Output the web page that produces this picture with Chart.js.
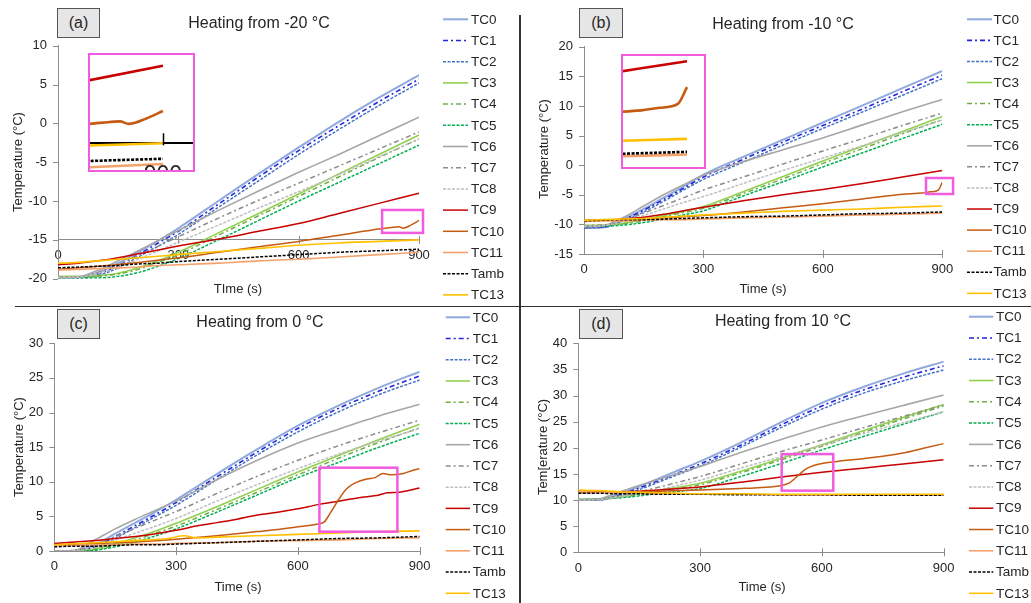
<!DOCTYPE html>
<html><head><meta charset="utf-8">
<script src="https://cdn.jsdelivr.net/npm/chart.js@4.4.1/dist/chart.umd.min.js"></script>
<style>
html,body{margin:0;padding:0;background:#fff}
body{width:1031px;height:603px;position:relative;overflow:hidden;font-family:"Liberation Sans",Arial,sans-serif;color:#262626}
canvas{position:absolute;display:block}
.t{position:absolute;transform:translate(-50%,-50%);white-space:nowrap;line-height:1}
.ttl{font-size:16px}
.ax{font-size:13px}
.rot{transform:translate(-50%,-50%) rotate(-90deg)}
.lbl{position:absolute;box-sizing:border-box;background:#e6e6e6;border:1.5px solid #555;font-size:16px;display:flex;align-items:center;justify-content:center}
.div{position:absolute;background:#333}
.inset{position:absolute;box-sizing:border-box;border:2px solid #F35BDF;background:#fff}
.inset canvas{position:absolute;left:0;top:0}
</style>
</head><body>

<canvas id="ca" width="518" height="305" style="left:0;top:0"></canvas>
<canvas id="cb" width="510" height="305" style="left:521px;top:0"></canvas>
<canvas id="cc" width="518" height="297" style="left:0;top:306px"></canvas>
<canvas id="cd" width="510" height="297" style="left:521px;top:306px"></canvas>

<div class="inset" style="left:88px;top:53px;width:107px;height:119px"><canvas id="ia" width="103" height="115"></canvas></div>
<div class="inset" style="left:621px;top:54px;width:85px;height:115px"><canvas id="ib" width="81" height="111"></canvas></div>

<div class="div" style="left:519px;top:15px;width:1.5px;height:588px"></div>
<div class="div" style="left:15px;top:305.5px;width:1016px;height:1.5px"></div>

<div class="lbl" style="left:57px;top:8px;width:43px;height:30px">(a)</div>
<div class="lbl" style="left:579px;top:8px;width:44px;height:30px">(b)</div>
<div class="lbl" style="left:57px;top:309px;width:43px;height:30px">(c)</div>
<div class="lbl" style="left:579px;top:309px;width:44px;height:30px">(d)</div>

<div class="t ttl" style="left:259px;top:23px">Heating from -20 °C</div>
<div class="t ttl" style="left:783px;top:24px">Heating from -10 °C</div>
<div class="t ttl" style="left:260px;top:322px">Heating from 0 °C</div>
<div class="t ttl" style="left:783px;top:321px">Heating from 10 °C</div>

<div class="t ax rot" style="left:17px;top:162px">Temperature (°C)</div>
<div class="t ax rot" style="left:543px;top:149px">Temperature (°C)</div>
<div class="t ax rot" style="left:18px;top:447px">Temperature (°C)</div>
<div class="t ax rot" style="left:542px;top:447px">Tem[erature (°C)</div>

<div class="t ax" style="left:238px;top:288px">TIme (s)</div>
<div class="t ax" style="left:763px;top:288px">Time (s)</div>
<div class="t ax" style="left:238px;top:586px">Time (s)</div>
<div class="t ax" style="left:762px;top:586px">Time (s)</div>

<script>
// ---------------- data ----------------
const NAMES = ['TC0','TC1','TC2','TC3','TC4','TC5','TC6','TC7','TC8','TC9','TC10','TC11','Tamb','TC13'];
const xTicks = [0, 300, 600, 900];
const yTicksA = [-20, -15, -10, -5, 0, 5, 10];
const yTicksB = [-15, -10, -5, 0, 5, 10, 15, 20];
const yTicksC = [0, 5, 10, 15, 20, 25, 30];
const yTicksD = [0, 5, 10, 15, 20, 25, 30, 35, 40];

const tA = [0,50,100,150,200,250,300,400,500,600,700,800,900];
const A_TC0  = [-19.8,-19.8,-19.2,-18.0,-16.6,-15.1,-13.5,-10.0,-6.5,-3.1,0.2,3.3,6.2];
const A_TC1  = [-19.8,-19.8,-19.4,-18.3,-16.9,-15.4,-13.9,-10.4,-6.9,-3.5,-0.3,2.8,5.7];
const A_TC2  = [-19.9,-19.9,-19.6,-18.6,-17.2,-15.8,-14.3,-10.8,-7.4,-4.0,-0.8,2.3,5.2];
const A_TC3  = [-19.7,-19.7,-19.6,-19.3,-18.6,-17.7,-16.6,-14.1,-11.6,-9.1,-6.5,-4.0,-1.5];
const A_TC4  = [-19.8,-19.8,-19.7,-19.4,-18.8,-17.9,-16.9,-14.4,-11.9,-9.4,-6.9,-4.4,-2.0];
const A_TC5  = [-19.9,-19.9,-19.9,-19.7,-19.2,-18.4,-17.4,-15.0,-12.5,-10.0,-7.6,-5.2,-2.8];
const A_TC6  = [-19.9,-19.8,-18.9,-17.7,-16.4,-15.1,-13.8,-11.2,-8.7,-6.3,-4.0,-1.6,0.8];
const A_TC7  = [-19.8,-19.8,-19.2,-18.2,-17.0,-15.8,-14.6,-12.2,-9.9,-7.7,-5.5,-3.3,-1.1];
const A_TC8  = [-19.8,-19.8,-19.3,-18.5,-17.5,-16.4,-15.3,-13.1,-10.9,-8.8,-6.6,-4.3,-2.0];
const A_TC9  = [-18.2,-18.0,-17.7,-17.3,-16.8,-16.3,-15.8,-14.9,-13.9,-12.9,-11.6,-10.3,-9.0];
const tA10   = [0,100,200,300,400,500,600,700,750,800,830,850,860,880,900];
const A_TC10 = [-18.8,-18.4,-17.9,-17.3,-16.6,-15.9,-15.2,-14.4,-14.0,-13.6,-13.4,-13.3,-13.5,-13.1,-12.5];
const A_TC11 = [-18.9,-18.8,-18.7,-18.6,-18.5,-18.3,-18.2,-18.0,-17.7,-17.5,-17.2,-16.9,-16.6];
const A_Tamb = [-18.6,-18.5,-18.4,-18.3,-18.1,-18.0,-17.8,-17.5,-17.2,-16.9,-16.6,-16.4,-16.2];
const A_TC13 = [-18.0,-17.9,-17.7,-17.5,-17.3,-17.1,-16.9,-16.5,-16.1,-15.7,-15.4,-15.2,-15.0];

const tB = [0,50,100,150,200,250,300,400,500,600,700,800,900];
const B_TC0  = [-10.6,-10.5,-9.1,-7.4,-5.5,-3.6,-1.6,1.4,4.3,7.2,10.1,13.0,15.9];
const B_TC1  = [-10.5,-10.4,-9.2,-7.6,-5.8,-3.9,-2.0,1.0,3.9,6.7,9.5,12.4,15.2];
const B_TC2  = [-10.6,-10.5,-9.4,-7.9,-6.1,-4.2,-2.4,0.5,3.4,6.2,9.0,11.8,14.6];
const B_TC3  = [-10.2,-10.1,-9.8,-9.2,-8.5,-7.8,-7.0,-4.5,-1.9,0.7,3.2,5.7,8.2];
const B_TC4  = [-10.2,-10.1,-9.9,-9.4,-8.7,-8.0,-7.3,-4.8,-2.3,0.3,2.8,5.3,7.7];
const B_TC5  = [-10.3,-10.3,-10.1,-9.7,-9.1,-8.4,-7.7,-5.2,-2.8,-0.3,2.1,4.5,6.9];
const B_TC6  = [-10.4,-10.2,-8.8,-6.9,-5.0,-3.3,-1.7,0.6,2.6,4.6,6.8,9.0,11.1];
const B_TC7  = [-10.3,-10.1,-9.3,-8.1,-6.8,-5.5,-4.2,-2.0,0.2,2.4,4.5,6.7,8.8];
const B_TC8  = [-10.3,-10.2,-9.5,-8.5,-7.4,-6.3,-5.3,-3.1,-0.9,1.2,3.3,5.5,7.6];
const B_TC9  = [-9.4,-9.3,-9.1,-8.8,-8.3,-7.7,-7.1,-6.0,-5.0,-4.1,-3.1,-2.0,-0.9];
const tB10   = [0,100,200,300,400,500,600,700,800,850,870,890,900];
const B_TC10 = [-9.3,-9.2,-8.9,-8.5,-7.9,-7.2,-6.5,-5.7,-4.9,-4.7,-4.5,-4.2,-2.9];
const B_TC11 = [-9.5,-9.4,-9.4,-9.3,-9.2,-9.2,-9.1,-8.9,-8.8,-8.6,-8.4,-8.3,-8.1];
const B_Tamb = [-9.4,-9.3,-9.2,-9.2,-9.1,-9.0,-8.9,-8.7,-8.6,-8.4,-8.2,-8.1,-7.9];
const B_TC13 = [-9.3,-9.2,-9.1,-9.0,-8.8,-8.6,-8.4,-8.1,-7.8,-7.6,-7.4,-7.1,-6.9];

const tC = [0,50,100,150,200,250,300,400,500,600,700,800,900];
const C_TC0  = [0.0,0.0,0.9,2.5,4.1,5.7,7.4,11.1,14.7,18.1,21.0,23.6,25.9];
const C_TC1  = [0.0,0.0,0.6,2.1,3.7,5.3,7.0,10.7,14.3,17.7,20.6,23.1,25.3];
const C_TC2  = [0.0,0.0,0.3,1.8,3.4,5.0,6.6,10.3,13.9,17.2,20.1,22.6,24.7];
const C_TC3  = [0.0,0.0,0.3,1.0,1.9,2.9,4.0,6.4,8.9,11.4,13.8,16.1,18.3];
const C_TC4  = [0.0,0.0,0.2,0.8,1.6,2.6,3.6,6.0,8.5,11.0,13.4,15.7,17.8];
const C_TC5  = [0.0,0.0,0.1,0.6,1.3,2.2,3.2,5.6,8.1,10.6,12.8,15.0,17.0];
const C_TC6  = [0.0,0.1,1.6,3.2,4.6,5.9,7.2,10.3,13.1,15.6,17.6,19.5,21.2];
const C_TC7  = [0.0,0.1,0.9,2.1,3.3,4.5,5.7,8.3,10.8,13.1,15.2,17.1,18.9];
const C_TC8  = [0.0,0.0,0.6,1.6,2.6,3.6,4.7,7.2,9.6,11.9,14.0,15.9,17.7];
const tC9    = [0,50,100,150,200,250,300,350,400,450,500,550,600,650,700,750,800,820,850,900];
const C_TC9  = [1.1,1.3,1.5,1.8,2.1,2.5,3.0,3.6,4.1,4.6,5.2,5.6,6.1,6.7,7.2,7.7,8.1,8.4,8.5,9.1];
const tC10   = [0,100,200,300,400,500,550,600,650,665,680,700,720,740,770,790,810,830,860,880,900];
const C_TC10 = [0.9,1.1,1.3,1.7,2.2,2.8,3.1,3.5,3.9,4.2,5.5,7.4,9.0,9.8,10.4,10.6,11.2,11.0,11.2,11.6,11.9];
const C_TC11 = [0.8,0.8,0.9,0.9,1.0,1.0,1.1,1.2,1.4,1.5,1.6,1.8,1.9];
const C_Tamb = [0.6,0.7,0.7,0.8,0.9,0.9,1.0,1.2,1.4,1.6,1.8,1.9,2.1];
const tC13   = [0,100,200,280,320,350,400,500,600,700,800,900];
const C_TC13 = [0.9,1.2,1.5,1.8,2.2,1.9,2.0,2.2,2.4,2.6,2.8,2.9];

const tD = [0,50,100,150,200,250,300,400,500,600,700,800,900];
const D_TC0  = [10.0,10.1,11.1,12.6,14.2,15.8,17.4,21.0,24.9,28.6,31.6,34.2,36.5];
const D_TC1  = [10.0,10.1,10.9,12.3,13.8,15.3,16.9,20.5,24.4,28.0,31.0,33.5,35.7];
const D_TC2  = [10.0,10.0,10.7,12.0,13.5,15.0,16.5,20.1,23.9,27.4,30.4,32.8,34.9];
const D_TC3  = [10.1,10.2,10.6,11.2,11.9,12.5,13.2,15.5,18.0,20.6,23.2,25.8,28.3];
const D_TC4  = [10.1,10.2,10.5,11.0,11.6,12.2,12.9,15.2,17.7,20.3,22.9,25.5,28.0];
const D_TC5  = [10.1,10.2,10.4,10.8,11.3,11.7,12.2,14.5,17.0,19.6,22.1,24.5,26.9];
const D_TC6  = [10.0,10.2,11.5,12.8,14.0,15.2,16.4,19.1,21.6,24.0,26.1,28.1,30.1];
const D_TC7  = [10.0,10.1,10.8,11.6,12.5,13.5,14.5,16.9,19.3,21.5,23.8,26.0,28.2];
const D_TC8  = [10.0,10.1,10.6,11.3,12.0,12.9,13.8,16.1,18.3,20.5,22.7,24.8,26.9];
const D_TC9  = [11.7,11.6,11.6,11.7,11.9,12.2,12.5,13.4,14.4,15.3,16.1,16.9,17.7];
const tD10   = [0,100,200,300,400,450,500,520,540,560,580,600,650,700,750,800,850,900];
const D_TC10 = [11.4,11.5,11.7,11.9,12.2,12.4,12.8,13.3,14.6,15.9,16.6,17.0,17.5,17.9,18.4,19.0,19.9,20.8];
const D_TC11 = [11.6,11.5,11.4,11.3,11.2,11.2,11.1,11.1,11.0,11.0,11.0,11.0,11.0];
const D_Tamb = [11.3,11.3,11.2,11.2,11.1,11.1,11.1,11.0,11.0,11.0,10.9,10.9,10.9];
const D_TC13 = [11.9,11.8,11.6,11.5,11.4,11.3,11.2,11.2,11.1,11.1,11.1,11.1,11.1];

// ---------------- styles ----------------
const STYLES = {
  TC0:  {color:'#8FAADC', dash:[],        width:2},
  TC1:  {color:'#2626D9', dash:[5,3,2,3], width:1.6},
  TC2:  {color:'#4472C4', dash:[3,1.5],   width:1.5},
  TC3:  {color:'#92D050', dash:[],        width:1.6},
  TC4:  {color:'#70AD47', dash:[5,3,2,3], width:1.5},
  TC5:  {color:'#00B050', dash:[3,1.5],   width:1.5},
  TC6:  {color:'#A6A6A6', dash:[],        width:1.6},
  TC7:  {color:'#8C8C8C', dash:[5,3,2,3], width:1.5},
  TC8:  {color:'#BFBFBF', dash:[3,1.5],   width:1.5},
  TC9:  {color:'#C80000', dash:[],        width:1.5},
  TC10: {color:'#C55A11', dash:[],        width:1.5},
  TC11: {color:'#F4A26B', dash:[],        width:1.6},
  Tamb: {color:'#000000', dash:[3,1.5],   width:1.5},
  TC13: {color:'#FFC000', dash:[],        width:1.6}
};
const FONT = 'Liberation Sans, Arial, sans-serif';
const AXIS = '#8c8c8c';
const TXT = '#262626';
const MAGENTA = '#F35BDF';

// ---------------- plugins ----------------
const tickMarks = {
  id: 'tickMarks',
  afterDraw(chart, args, o) {
    if (!o || !o.on) return;
    const {ctx, chartArea: ca, scales: {x, y}} = chart;
    ctx.save();
    ctx.strokeStyle = o.color; ctx.lineWidth = o.width;
    const ay = (o.xAt !== null && o.xAt !== undefined) ? y.getPixelForValue(o.xAt) : ca.bottom;
    ctx.beginPath();
    const xs = o.xValues ? o.xValues : x.ticks.map(t => t.value);
    xs.forEach(v => {
      if (v === x.min && o.skipFirst) return;
      const px = Math.round(x.getPixelForValue(v)) + 0.5;
      ctx.moveTo(px, ay - o.up); ctx.lineTo(px, ay + o.down);
    });
    if (o.yLen) y.ticks.forEach(t => {
      const py = Math.round(y.getPixelForValue(t.value)) + 0.5;
      ctx.moveTo(ca.left - o.yLen, py); ctx.lineTo(ca.left, py);
    });
    ctx.stroke();
    if (o.label) {
      ctx.fillStyle = TXT; ctx.font = o.labelSize + 'px ' + FONT;
      ctx.textAlign = 'center'; ctx.textBaseline = 'top';
      xs.forEach(v => ctx.fillText(String(v), x.getPixelForValue(v), ay + o.labelDy));
    }
    ctx.restore();
  }
};
const sideLegend = {
  id: 'sideLegend',
  afterDraw(chart, args, o) {
    if (!o || !o.on) return;
    const ctx = chart.ctx;
    ctx.save();
    chart.data.datasets.forEach((ds, i) => {
      const y = o.y0 + i * o.dy;
      ctx.strokeStyle = ds.borderColor; ctx.lineWidth = ds.borderWidth;
      ctx.setLineDash(ds.borderDash || []);
      ctx.beginPath(); ctx.moveTo(o.x1, y); ctx.lineTo(o.x2, y); ctx.stroke();
      ctx.setLineDash([]);
      ctx.fillStyle = TXT; ctx.font = '13.5px ' + FONT;
      ctx.textAlign = 'left'; ctx.textBaseline = 'middle';
      ctx.fillText(ds.label, o.tx, y + 0.5);
    });
    ctx.restore();
  }
};
const magentaBoxes = {
  id: 'magentaBoxes',
  afterDatasetsDraw(chart, args, o) {
    if (!o || !o.list) return;
    const {ctx, scales: {x, y}} = chart;
    ctx.save(); ctx.strokeStyle = MAGENTA; ctx.lineWidth = 2.5;
    o.list.forEach(b => {
      const x0 = x.getPixelForValue(b.t0), x1 = x.getPixelForValue(b.t1);
      const y0 = y.getPixelForValue(b.v1), y1 = y.getPixelForValue(b.v0);
      ctx.strokeRect(x0, y0, x1 - x0, y1 - y0);
    });
    ctx.restore();
  }
};
Chart.register(tickMarks, sideLegend, magentaBoxes);

function datasets(series, lw) {
  return NAMES.map((n, i) => {
    const [ts, vs] = series[n];
    const st = STYLES[n];
    return {
      label: n,
      data: ts.map((t, k) => ({x: t, y: vs[k]})),
      borderColor: st.color, backgroundColor: st.color,
      borderDash: st.dash, borderWidth: lw ? lw : st.width,
      pointRadius: 0, fill: false, tension: 0,
      cubicInterpolationMode: 'monotone',
      order: -i
    };
  });
}

function panel(p) {
  const el = document.getElementById(p.id);
  const W = el.width, H = el.height;
  const floating = p.xAt !== null;
  return new Chart(el, {
    type: 'line',
    data: {datasets: datasets(p.series)},
    options: {
      responsive: false, animation: false, events: [], devicePixelRatio: 1,
      layout: {padding: {left: 0, top: p.area.t, right: W - p.area.r, bottom: floating ? H - p.area.b : 0}},
      plugins: {
        legend: {display: false}, tooltip: {enabled: false},
        sideLegend: Object.assign({on: true}, p.legend),
        tickMarks: {on: true, color: AXIS, width: 1, xAt: p.xAt, up: 4, down: 4, yLen: 5, skipFirst: true},
        magentaBoxes: {list: p.boxes}
      },
      scales: {
        x: {
          type: 'linear', min: 0, max: 900,
          position: floating ? {y: p.xAt} : 'bottom',
          afterBuildTicks: s => { s.ticks = xTicks.map(v => ({value: v})); },
          afterFit: s => { s.height = floating ? 0 : H - p.area.b; },
          grid: {display: false, drawTicks: false},
          border: {display: true, color: AXIS, width: 1},
          ticks: {padding: 8, color: TXT, font: {family: FONT, size: 13}, maxRotation: 0, autoSkip: false}
        },
        y: {
          type: 'linear', min: p.yTicks[0], max: p.yTicks[p.yTicks.length - 1],
          afterBuildTicks: s => { s.ticks = p.yTicks.map(v => ({value: v})); },
          afterFit: s => { s.width = p.area.l; },
          grid: {display: false, drawTicks: false},
          border: {display: true, color: AXIS, width: 1},
          ticks: {padding: 11, color: TXT, font: {family: FONT, size: 13}, autoSkip: false}
        }
      }
    }
  });
}

function inset(p) {
  const el = document.getElementById(p.id);
  return new Chart(el, {
    type: 'line',
    data: {datasets: datasets(p.series, 2.6)},
    options: {
      responsive: false, animation: false, events: [], devicePixelRatio: 1,
      layout: {padding: 0},
      plugins: {
        legend: {display: false}, tooltip: {enabled: false},
        tickMarks: p.axis ? {on: true, color: '#000', width: 1.5, xAt: p.axis.at, xValues: p.axis.values, up: 10, down: 2, yLen: 0, label: true, labelSize: 23, labelDy: 21} : {on: false}
      },
      scales: {
        x: {
          type: 'linear', min: p.x[0], max: p.x[1],
          display: !!p.axis,
          position: p.axis ? {y: p.axis.at} : 'bottom',
          afterFit: s => { s.height = 0; },
          grid: {display: false, drawTicks: false},
          border: {display: !!p.axis, color: '#000', width: 2},
          ticks: {display: false}
        },
        y: {type: 'linear', min: p.y[0], max: p.y[1], display: false}
      }
    }
  });
}

const SER_A = {TC0:[tA,A_TC0],TC1:[tA,A_TC1],TC2:[tA,A_TC2],TC3:[tA,A_TC3],TC4:[tA,A_TC4],TC5:[tA,A_TC5],TC6:[tA,A_TC6],TC7:[tA,A_TC7],TC8:[tA,A_TC8],TC9:[tA,A_TC9],TC10:[tA10,A_TC10],TC11:[tA,A_TC11],Tamb:[tA,A_Tamb],TC13:[tA,A_TC13]};
const SER_B = {TC0:[tB,B_TC0],TC1:[tB,B_TC1],TC2:[tB,B_TC2],TC3:[tB,B_TC3],TC4:[tB,B_TC4],TC5:[tB,B_TC5],TC6:[tB,B_TC6],TC7:[tB,B_TC7],TC8:[tB,B_TC8],TC9:[tB,B_TC9],TC10:[tB10,B_TC10],TC11:[tB,B_TC11],Tamb:[tB,B_Tamb],TC13:[tB,B_TC13]};
const SER_C = {TC0:[tC,C_TC0],TC1:[tC,C_TC1],TC2:[tC,C_TC2],TC3:[tC,C_TC3],TC4:[tC,C_TC4],TC5:[tC,C_TC5],TC6:[tC,C_TC6],TC7:[tC,C_TC7],TC8:[tC,C_TC8],TC9:[tC9,C_TC9],TC10:[tC10,C_TC10],TC11:[tC,C_TC11],Tamb:[tC,C_Tamb],TC13:[tC13,C_TC13]};
const SER_D = {TC0:[tD,D_TC0],TC1:[tD,D_TC1],TC2:[tD,D_TC2],TC3:[tD,D_TC3],TC4:[tD,D_TC4],TC5:[tD,D_TC5],TC6:[tD,D_TC6],TC7:[tD,D_TC7],TC8:[tD,D_TC8],TC9:[tD,D_TC9],TC10:[tD10,D_TC10],TC11:[tD,D_TC11],Tamb:[tD,D_Tamb],TC13:[tD,D_TC13]};

panel({id:'ca', area:{l:58, r:419, t:45.7, b:278.7}, yTicks:yTicksA, xAt:-15, series:SER_A,
  legend:{x1:443, x2:468, tx:471, y0:19.3, dy:21.2},
  boxes:[{t0:808, t1:910, v0:-14.1, v1:-11.15}]});
panel({id:'cb', area:{l:63, r:421.3, t:46.7, b:254}, yTicks:yTicksB, xAt:null, series:SER_B,
  legend:{x1:446, x2:471, tx:472.5, y0:19.3, dy:21.08},
  boxes:[{t0:859, t1:927, v0:-4.87, v1:-2.17}]});
panel({id:'cc', area:{l:54.3, r:419.7, t:37.3, b:245}, yTicks:yTicksC, xAt:null, series:SER_C,
  legend:{x1:445.7, x2:470, tx:472.7, y0:11.3, dy:21.23},
  boxes:[{t0:653, t1:845, v0:2.79, v1:12.03}]});
panel({id:'cd', area:{l:57.3, r:422.7, t:37.3, b:246.3}, yTicks:yTicksD, xAt:null, series:SER_D,
  legend:{x1:448, x2:472.3, tx:475, y0:10.7, dy:21.28},
  boxes:[{t0:501, t1:628, v0:11.8, v1:18.8}]});

inset({id:'ia', series:SER_A, x:[815, 935], y:[-17.07, -8.16], axis:{at:-15, values:[900]}});
inset({id:'ib', series:SER_B, x:[830, 918.6], y:[-9.07, -0.5], axis:null});
</script>
</body></html>
